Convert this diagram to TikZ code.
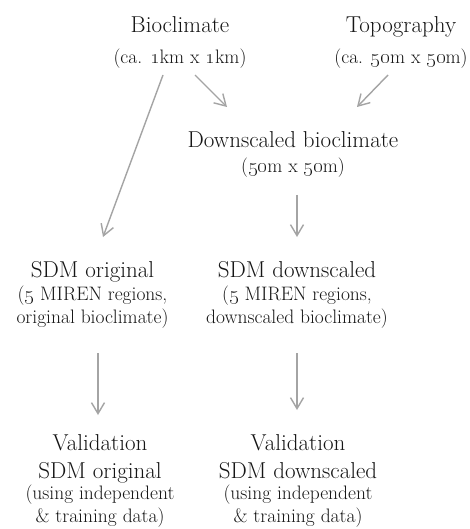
\documentclass[tikz,border=0pt]{standalone}
\usetikzlibrary{arrows.meta,calc}
\definecolor{ink}{HTML}{161616}
\definecolor{wire}{HTML}{A4A4A4}
\newcommand{\hdfont}{\fontsize{23}{23}\selectfont}
\newcommand{\osn}[1]{\oldstylenums{#1}}
\begin{document}
\begin{tikzpicture}[x=1pt,y=-1pt,
  % the base anchor of a block is the baseline of its last line
  block/.style={align=center, text=ink, inner sep=0pt, anchor=base,
                font=\fontsize{19.5}{23}\selectfont},
  flow/.style={draw=wire, line width=1.4pt,
               -{Straight Barb[length=11pt,width=13pt,line width=1.4pt]}}]
\useasboundingbox[fill=white] (0,0) rectangle (470,529);

% inputs
\node[block] (bio)  at (180,64) {{\hdfont Bioclimate}\\[8pt](ca. \osn{1}km x \osn{1}km)};
\node[block] (topo) at (401,64) {{\hdfont Topography}\\[8pt](ca. \osn{50}m x \osn{50}m)};

% downscaling
\node[block] (down) at (293,173) {{\hdfont Downscaled bioclimate}\\[2pt](\osn{50}m x \osn{50}m)};

% models
\node[block] (sdmo) at (92.5,323) {{\hdfont SDM original}\\(\osn{5} MIREN regions,\\original bioclimate)};
\node[block] (sdmd) at (297,323) {{\hdfont SDM downscaled}\\(\osn{5} MIREN regions,\\downscaled bioclimate)};

% validation
\node[block] (valo) at (100,522) {{\hdfont Validation}\\[5pt]{\hdfont SDM original}\\[-2pt](using independent\\\& training data)};
\node[block] (vald) at (298,522) {{\hdfont Validation}\\[5pt]{\hdfont SDM downscaled}\\[-2pt](using independent\\\& training data)};

% connectors
\draw[flow] ($(bio.base)+(15,11)$)   -- ($(down.base)+(-66,-66)$);
\draw[flow] ($(topo.base)+(-13,11)$) -- ($(down.base)+(64,-66)$);
\draw[flow] ($(bio.base)+(-17,11)$)  -- ($(sdmo.base)+(10.5,-86)$);
\draw[flow] ($(down.base)+(4,22)$)   -- ($(sdmd.base)+(0,-86)$);
\draw[flow] ($(sdmo.base)+(5.5,30)$) -- ($(valo.base)+(-2,-107)$);
\draw[flow] ($(sdmd.base)+(0,30)$)   -- ($(vald.base)+(-1,-112)$);
\end{tikzpicture}
\end{document}
